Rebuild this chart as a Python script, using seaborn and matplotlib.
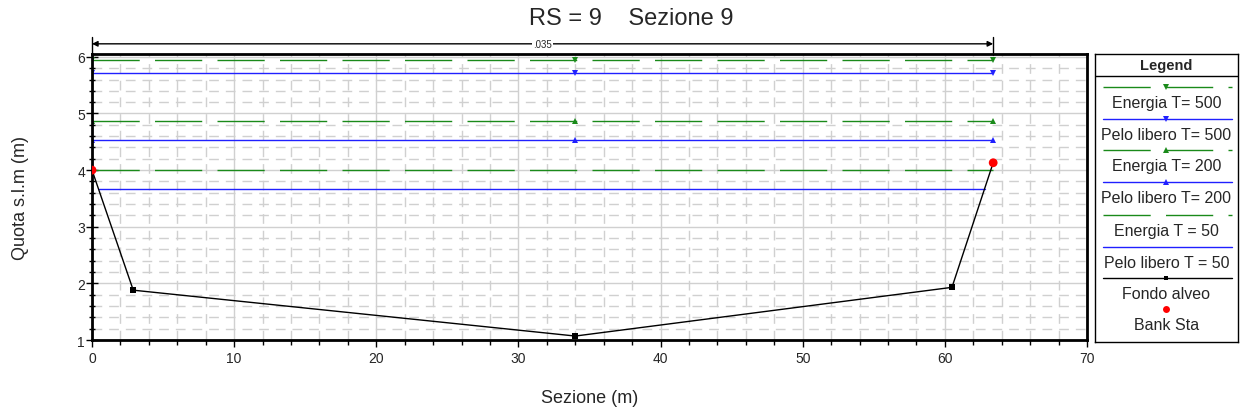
import numpy as np
import pandas as pd
import matplotlib
matplotlib.use("Agg")
import matplotlib.pyplot as plt
import seaborn as sns

# ground profile
station = [0.0, 2.9, 34.0, 60.5, 63.4]
elev = [4.0, 1.88, 1.07, 1.93, 4.13]
bank_x = [0.0, 63.4]
bank_y = [4.0, 4.13]

# water surfaces / energy lines
marker_x = [0.0, 34.0, 63.4]
eg_500 = 5.95
ws_500 = 5.72
eg_200 = 4.87
ws_200 = 4.54
eg_50 = 4.0
ws_50 = 3.66
ws_50_x = [0.47, 62.8]
n_value = ".035"

labels = ["Energia T= 500", "Pelo libero T= 500", "Energia T= 200",
          "Pelo libero T= 200", "Energia T = 50", "Pelo libero T = 50",
          "Fondo alveo", "Bank Sta"]

sns.set_style("white")
plt.rcParams['font.family'] = ['Liberation Sans', 'DejaVu Sans']

green = "#1a8a1a"
blue = "#2020ff"
dash = (0, (34, 11))

fig = plt.figure(figsize=(12.42, 4.14), dpi=100)
ax = fig.add_axes([0.0741, 0.1763, 0.8011, 0.6908])

# grid
ax.set_xlim(0, 70)
ax.set_ylim(1, 6.05)
ax.set_xticks(range(0, 71, 10))
ax.set_xticks(np.arange(0, 71, 2), minor=True)
ax.set_yticks(range(1, 7))
ax.set_yticks(np.arange(1, 6.05, 0.2), minor=True)
ax.grid(which="major", color="#d0d0d0", lw=1.0, ls="-")
ax.grid(which="minor", color="#d0d0d0", lw=1.0, ls=(0, (7, 5)))
ax.set_axisbelow(True)


def hline(xs, y, color, ls, marker=None):
    df = pd.DataFrame({"x": xs, "y": [y] * len(xs)})
    sns.lineplot(data=df, x="x", y="y", color=color, lw=1.0, ls=ls, sort=False,
                 estimator=None, marker=marker, markersize=5, markeredgewidth=0, ax=ax)


hline(marker_x, eg_500, green, dash, "v")
hline(marker_x, ws_500, blue, "-", "v")
hline(marker_x, eg_200, green, dash, "^")
hline(marker_x, ws_200, blue, "-", "^")
hline(bank_x, eg_50, green, dash)
hline(ws_50_x, ws_50, blue, "-")

ground = pd.DataFrame({"station": station, "elev": elev})
sns.lineplot(data=ground, x="station", y="elev", color="black", lw=1.0, sort=False,
             estimator=None, marker="s", markersize=4, markeredgewidth=0, ax=ax)
sns.scatterplot(x=bank_x, y=bank_y, color="red", s=40, edgecolor="none", ax=ax, zorder=5)

# Manning n dimension line
ax.annotate("", xy=(bank_x[0], 6.23), xytext=(bank_x[1], 6.23),
            arrowprops=dict(arrowstyle="<|-|>", color="black", lw=1.0,
                            mutation_scale=8, shrinkA=0, shrinkB=0),
            annotation_clip=False)
for bx in bank_x:
    ax.plot([bx, bx], [6.04, 6.35], color="black", lw=1.0, clip_on=False)
ax.text((bank_x[0] + bank_x[1]) / 2, 6.23, n_value, ha="center", va="center",
        fontsize=7, bbox=dict(facecolor="white", edgecolor="none", pad=1), clip_on=False)

for s in ax.spines.values():
    s.set_color("black")
    s.set_linewidth(2)
ax.tick_params(axis="x", which="major", direction="out", length=5, width=1,
               color="black", labelsize=10, bottom=True, pad=3)
ax.tick_params(axis="x", which="minor", direction="out", length=3.5, width=1,
               color="black", bottom=True)
ax.tick_params(axis="y", which="major", direction="inout", length=8, width=1,
               color="black", labelsize=10, left=True, pad=1)
ax.tick_params(axis="y", which="minor", direction="inout", length=5, width=1,
               color="black", left=True)
ax.set_xlabel("Sezione (m)", fontsize=13, labelpad=17)
ax.set_ylabel("Quota s.l.m (m)", fontsize=13, labelpad=35)
fig.text(0.5085, 0.955, "RS = 9    Sezione 9", ha="center", va="center", fontsize=17)

# legend panel
lax = fig.add_axes([0.8816, 0.1715, 0.1152, 0.6956])
lax.set_xlim(0, 1)
lax.set_ylim(288, 0)
lax.set_xticks([])
lax.set_yticks([])
for s in lax.spines.values():
    s.set_color("black")
    s.set_linewidth(1)
lax.text(0.5, 11, "Legend", ha="center", va="center", fontsize=10.5, fontweight="bold")
lax.axhline(22, color="black", lw=1)

styles = [(green, dash, "v"), (blue, "-", "v"), (green, dash, "^"), (blue, "-", "^"),
          (green, dash, None), (blue, "-", None), ("black", "-", "s")]
line_y = [33, 65, 96, 128, 161, 193, 224]
for (c, ls, m), yy, lab in zip(styles, line_y, labels):
    lax.plot([0.055, 0.955], [yy, yy], color=c, ls=ls, lw=1.0)
    if m:
        lax.plot([0.5], [yy], marker=m, color=c, markersize=4 if m != "s" else 3.5,
                 markeredgewidth=0)
    lax.text(0.5, yy + 15, lab, ha="center", va="center", fontsize=11.5)
lax.plot([0.5], [255], marker="o", color="red", markersize=5, markeredgewidth=0)
lax.text(0.5, 270, labels[-1], ha="center", va="center", fontsize=11.5)

fig.savefig("out.png", dpi=100)
